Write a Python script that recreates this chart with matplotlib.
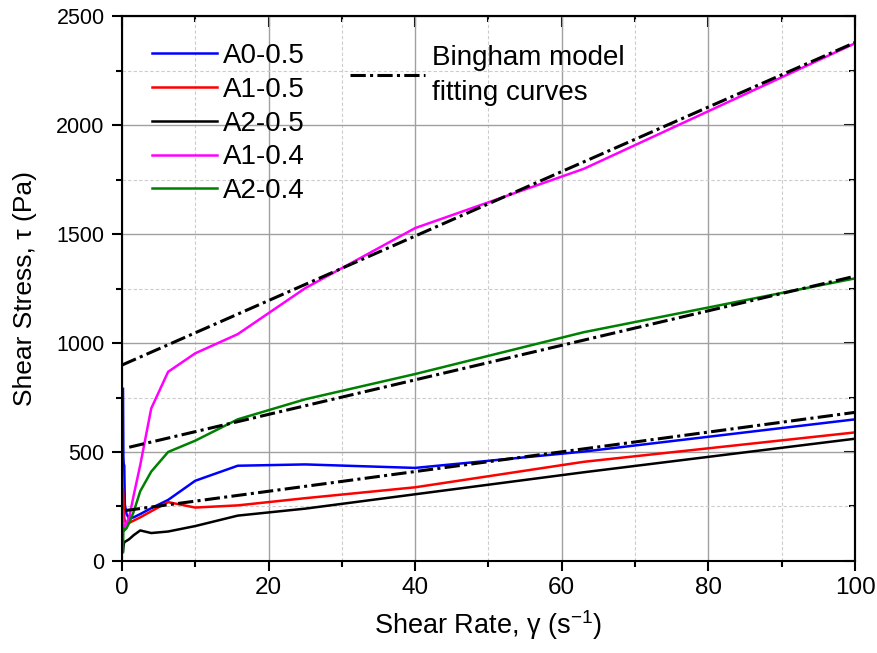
import matplotlib.pyplot as plt
from matplotlib.ticker import MultipleLocator, NullFormatter
from matplotlib.lines import Line2D

plt.rcParams['font.family'] = ['Liberation Sans', 'DejaVu Sans']
plt.rcParams['mathtext.default'] = 'regular'

# shear rate (1/s)
rate = [0.15, 0.2, 0.25, 0.32, 0.4, 0.63, 1.0, 1.6, 2.5, 4.0, 6.3, 10, 15.8, 25, 40, 63, 100]

# shear stress (Pa)
a0_05 = [790, 480, 440, 440, 260, 215, 195, 200, 215, 242, 280, 368, 437, 443, 427, 502, 650]
a1_05 = [330, 300, 250, 200, 185, 170, 175, 185, 200, 228, 270, 245, 255, 288, 338, 455, 590]
a2_05 = [45, 60, 75, 85, 88, 92, 100, 118, 140, 128, 135, 160, 208, 240, 306, 407, 561]
a1_04 = [230, 170, 157, 155, 157, 175, 200, 300, 440, 700, 868, 953, 1041, 1252, 1528, 1800, 2376]
a2_04 = [40, 150, 145, 140, 142, 150, 175, 225, 320, 410, 500, 552, 650, 742, 858, 1050, 1297]

series = [("A0-0.5", a0_05, "#0000ff"),
          ("A1-0.5", a1_05, "#ff0000"),
          ("A2-0.5", a2_05, "#000000"),
          ("A1-0.4", a1_04, "#ff00ff"),
          ("A2-0.4", a2_04, "#008000")]

# Bingham fits: end points of each straight line
fit_x = [[0, 100], [1, 100], [0.4, 100]]
fit_y = [[899, 2380], [522, 1307], [231, 682]]

dashdot = (0, (5, 1.4, 1, 1.4))

fig = plt.figure(figsize=(8.77, 6.53), dpi=100)
ax = fig.add_axes([0.139, 0.141, 0.836, 0.834])

handles = []
for name, ys, c in series:
    h, = ax.plot(rate, ys, color=c, lw=1.8, label=name)
    handles.append(h)

for fx, fy in zip(fit_x, fit_y):
    ax.plot(fx, fy, color='black', lw=2.2, linestyle=dashdot)

ax.set_xlim(0, 100)
ax.set_ylim(0, 2500)
ax.xaxis.set_major_locator(MultipleLocator(20))
ax.xaxis.set_minor_locator(MultipleLocator(10))
ax.yaxis.set_major_locator(MultipleLocator(500))
ax.yaxis.set_minor_locator(MultipleLocator(250))

ax.grid(which='major', color='#a0a0a0', lw=1.0, ls='-')
ax.grid(which='minor', color='#cccccc', lw=0.8, ls=(0, (3, 2)))
ax.set_axisbelow(True)

# left / bottom ticks point outward
ax.tick_params(which='both', direction='out', width=1.5)
ax.tick_params(which='major', length=7.5)
ax.tick_params(which='minor', length=4.5)
ax.tick_params(axis='y', labelsize=15.5, pad=5)
ax.tick_params(axis='x', labelsize=17.5, pad=4)
for s in ax.spines.values():
    s.set_linewidth(1.5)

# top / right ticks point inward
top = ax.secondary_xaxis('top')
top.xaxis.set_major_locator(MultipleLocator(20))
top.xaxis.set_minor_locator(MultipleLocator(10))
top.xaxis.set_major_formatter(NullFormatter())
top.tick_params(which='both', direction='in', width=1.5)
top.tick_params(which='major', length=8)
top.tick_params(which='minor', length=4.5)
right = ax.secondary_yaxis('right')
right.yaxis.set_major_locator(MultipleLocator(500))
right.yaxis.set_minor_locator(MultipleLocator(250))
right.yaxis.set_major_formatter(NullFormatter())
right.tick_params(which='both', direction='in', width=1.5)
right.tick_params(which='major', length=8)
right.tick_params(which='minor', length=4.5)
for sa in (top, right):
    for s in sa.spines.values():
        s.set_linewidth(1.5)

ax.set_xlabel('Shear Rate, γ (s$^{-1}$)', fontsize=19.5, labelpad=7)
ax.set_ylabel('Shear Stress, τ (Pa)', fontsize=19, labelpad=14)

leg1 = ax.legend(handles=handles, loc='upper left', bbox_to_anchor=(0.041, 0.951),
                 frameon=False, fontsize=20, handlelength=2.35, handletextpad=0.22,
                 labelspacing=0.28, borderpad=0, borderaxespad=0)
ax.add_artist(leg1)
bh = Line2D([], [], color='black', lw=2.2, linestyle=dashdot)
leg2 = ax.legend(handles=[bh], labels=['Bingham model\nfitting curves'], loc='upper left',
                 bbox_to_anchor=(0.311, 0.948), frameon=False, fontsize=20,
                 handlelength=2.7, handletextpad=0.25, borderpad=0, borderaxespad=0)
for t in leg2.get_texts():
    t.set_linespacing(1.45)

fig.savefig('out.png', dpi=100)
